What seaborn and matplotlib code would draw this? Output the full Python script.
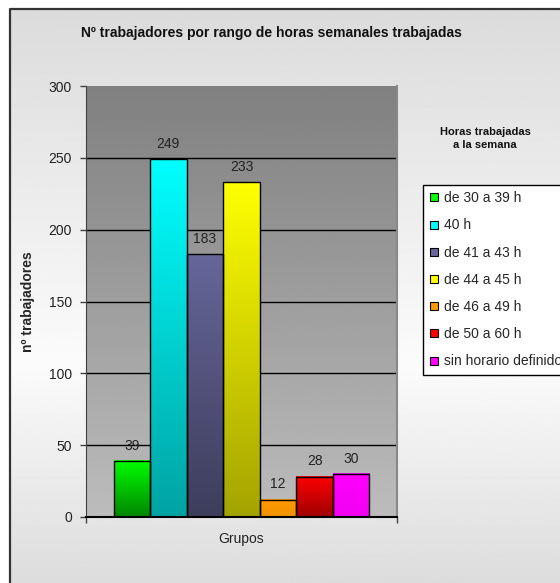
import matplotlib
matplotlib.use("Agg")
import matplotlib.pyplot as plt
from matplotlib.colors import to_rgb
from matplotlib.lines import Line2D
import numpy as np
import pandas as pd
import seaborn as sns

# datos
rangos = ["de 30 a 39 h", "40 h", "de 41 a 43 h", "de 44 a 45 h",
          "de 46 a 49 h", "de 50 a 60 h", "sin horario definido"]
trabajadores = [39, 249, 183, 233, 12, 28, 30]
colores = ["#00FF00", "#00FFFF", "#666699", "#FFFF00", "#FF9900", "#FF0000", "#FF00FF"]
oscuro = [0.52, 0.64, 0.6, 0.64, 0.95, 0.62, 0.95]  # brillo al pie de cada barra
yticks = [0, 50, 100, 150, 200, 250, 300]

df = pd.DataFrame({"grupo": "Grupos", "rango": rangos, "n": trabajadores})

sns.set_style("white")
plt.rcParams["font.family"] = ["Liberation Sans", "DejaVu Sans"]

W, H = 560, 583
fig = plt.figure(figsize=(W / 100, H / 100), dpi=100)

# fondo del area del grafico (degradado vertical) y borde
bg = fig.add_axes([0, 0, 1, 1], zorder=-10)
bg.set_axis_off()
filas = np.arange(H)
vals = np.interp(filas, [9, 360, H], [0xDC, 0xFB, 0xDC]) / 255
bg.imshow(vals[:, None], cmap="gray", vmin=0, vmax=1, extent=(9, W, H, 9), aspect="auto")
bg.plot([9.5, 9.5, W], [H, 8.5, 8.5], color="#333333", lw=1.6, solid_capstyle="butt")
bg.set_xlim(0, W)
bg.set_ylim(H, 0)

# area de trazado
ax = fig.add_axes([86 / W, 1 - 517 / H, (397 - 86) / W, (517 - 86) / H])
sns.barplot(data=df, x="grupo", y="n", hue="rango", hue_order=rangos,
            palette=colores, saturation=1, edgecolor="black", linewidth=1,
            legend=False, ax=ax, zorder=3)

xl = (-0.486, 0.486)
fondo = np.linspace(0x80, 0xBC, 256)[:, None] / 255
ax.imshow(fondo, cmap="gray", vmin=0, vmax=1, extent=(xl[0], xl[1], 0, 300),
          aspect="auto", zorder=0)

for i, cont in enumerate(ax.containers):
    bar = cont[0]
    c = np.array(to_rgb(colores[i]))
    grad = np.linspace(1, oscuro[i], 128)[:, None, None] * c
    x0, w, h = bar.get_x(), bar.get_width(), bar.get_height()
    ax.imshow(grad, extent=(x0, x0 + w, 0, h), aspect="auto", zorder=2.5)
    bar.set_facecolor("none")
    ax.bar_label(cont, padding=6, fontsize=10, color="#222222")

for yv in yticks[1:-1]:
    ax.axhline(yv, color="black", lw=1, zorder=1)

ax.set_xlim(*xl)
ax.set_ylim(0, 300)
ax.set_yticks(yticks)
ax.set_xlabel("")
ax.set_ylabel("nº trabajadores", fontsize=10, fontweight="bold")
ax.yaxis.set_label_coords(-0.164, 0.5)

ax.spines["top"].set_visible(False)
ax.spines["left"].set_color("#404040")
ax.spines["bottom"].set_color("black")
ax.spines["bottom"].set_linewidth(1.5)
ax.spines["right"].set_color("#888888")
ax.spines["right"].set_linewidth(1.5)

ax.tick_params(axis="y", length=4, width=1, color="#404040", labelsize=10,
               pad=6, labelcolor="#222222", left=True)
ax.tick_params(axis="x", which="major", length=0, pad=11, labelsize=10,
               labelcolor="#222222")
ax.set_xticks(list(xl), minor=True)
ax.tick_params(axis="x", which="minor", length=4, width=1, color="#404040",
               bottom=True)

# titulos
fig.text(271 / W, 1 - 33 / H, "Nº trabajadores por rango de horas semanales trabajadas",
         ha="center", va="center", fontsize=10, fontweight="bold", color="#111111")
fig.text(485 / W, 1 - 138.5 / H, "Horas trabajadas\na la semana", ha="center",
         va="center", fontsize=8, fontweight="bold", linespacing=1.35, color="#111111")

# leyenda
handles = [Line2D([], [], marker="s", ls="", markersize=5.5, markerfacecolor=c,
                  markeredgecolor="black", markeredgewidth=0.8) for c in colores]
leg = fig.legend(handles, rangos, loc="upper left", bbox_to_anchor=(423 / W, 1 - 185 / H),
                 frameon=True, fancybox=False, edgecolor="black", facecolor="white",
                 framealpha=1, fontsize=10, labelspacing=0.95, handlelength=0.7,
                 handletextpad=0.35, borderpad=0.45, borderaxespad=0)
leg.get_frame().set_linewidth(1)

fig.savefig("out.png", dpi=100)
